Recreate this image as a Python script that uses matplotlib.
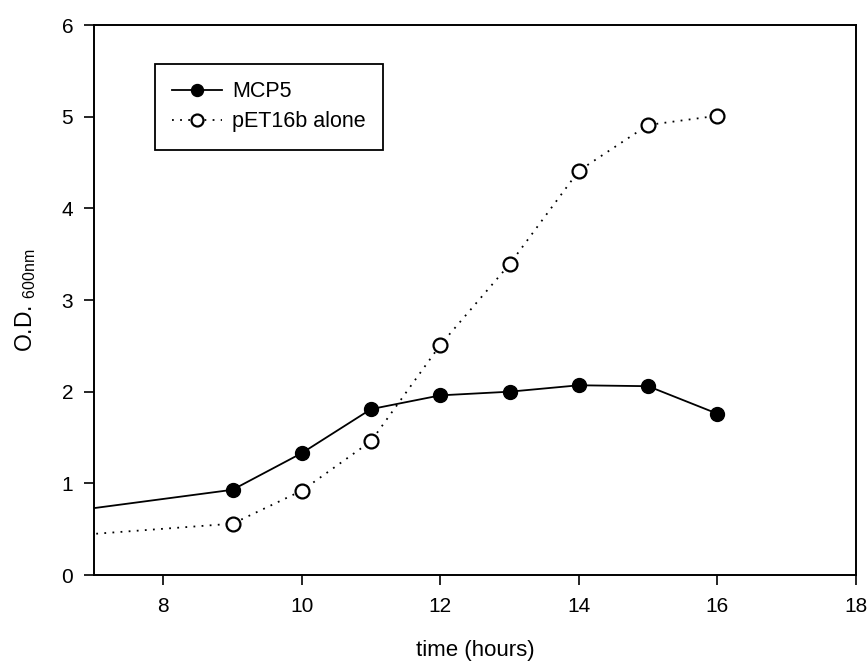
import matplotlib
matplotlib.use("Agg")
import matplotlib.pyplot as plt

plt.rcParams['font.family'] = ['Liberation Sans', 'DejaVu Sans']

# Growth curves, optical density vs time
hours = [0, 9, 10, 11, 12, 13, 14, 15, 16]
mcp5 = [0.03, 0.93, 1.33, 1.81, 1.96, 2.00, 2.07, 2.06, 1.76]
pet16b = [0.06, 0.56, 0.92, 1.46, 2.51, 3.39, 4.41, 4.91, 5.01]

xticks = [8, 10, 12, 14, 16, 18]
yticks = [0, 1, 2, 3, 4, 5, 6]

fig = plt.figure(figsize=(8.68, 6.64), dpi=100)
ax = fig.add_axes([0.1083, 0.134, 0.8777, 0.8283])

ax.plot(hours, mcp5, color='black', lw=1.3, marker='o', ms=10,
        mfc='black', mec='black', label='MCP5')
ax.plot(hours, pet16b, color='black', lw=1.3, ls=(0, (1, 3.5)), marker='o',
        ms=10, mfc='white', mec='black', mew=1.6, label='pET16b alone')

ax.set_xlim(7, 18)
ax.set_ylim(0, 6)
ax.set_xticks(xticks)
ax.set_yticks(yticks)
ax.tick_params(direction='out', length=7, width=1.2, labelsize=15)
ax.tick_params(axis='x', pad=9)
ax.tick_params(axis='y', pad=8)
for s in ax.spines.values():
    s.set_linewidth(1.4)

ax.set_xlabel('time (hours)', fontsize=16, labelpad=17)
ax.set_ylabel('O.D. $_{\\mathregular{600nm}}$', fontsize=16.5, labelpad=17)

leg = ax.legend(loc='upper left', bbox_to_anchor=(0.08, 0.929), fontsize=15.5,
                frameon=True, fancybox=False, edgecolor='black',
                borderaxespad=0, handlelength=2.3, markerscale=0.86,
                borderpad=0.8, labelspacing=0.42, handletextpad=0.5)
leg.get_frame().set_linewidth(1.3)
leg.get_frame().set_alpha(1)

fig.savefig('out.png', dpi=100)
